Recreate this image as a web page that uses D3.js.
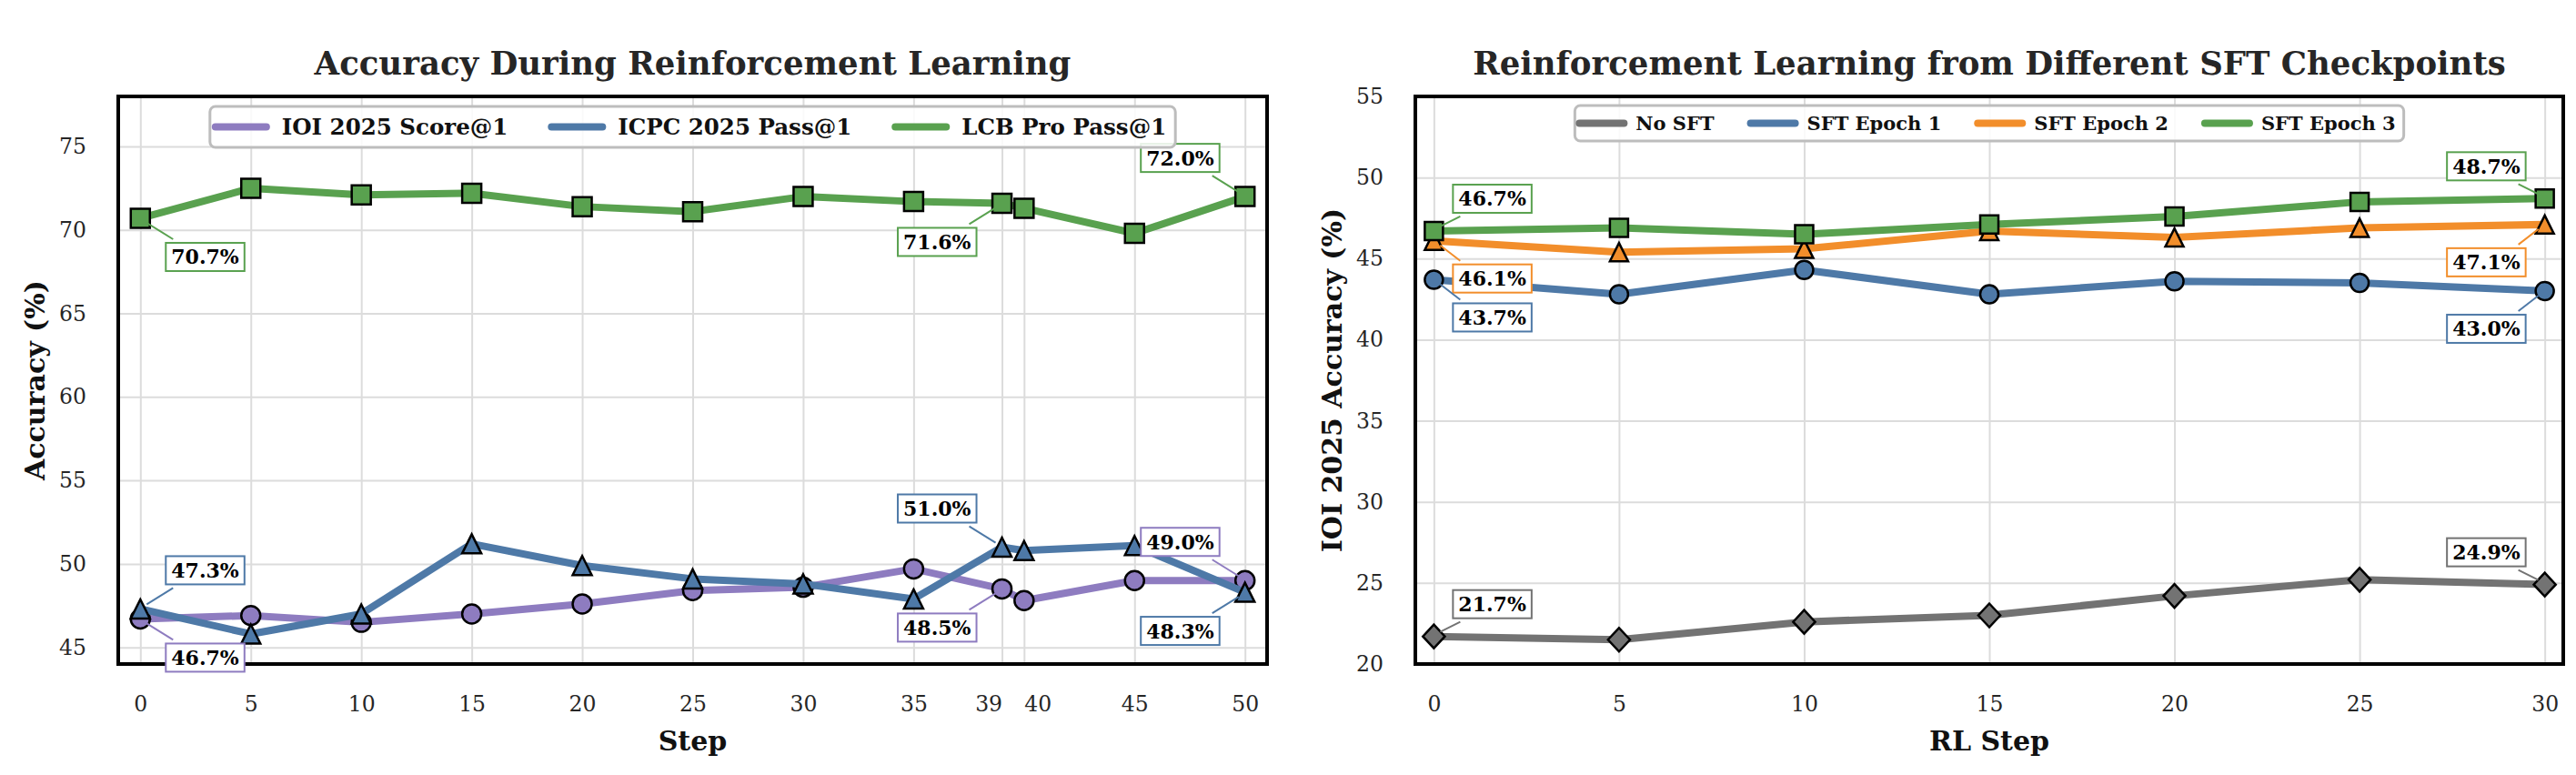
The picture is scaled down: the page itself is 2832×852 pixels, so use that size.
<!DOCTYPE html>
<html>
<head>
<meta charset="utf-8">
<script src="https://cdn.jsdelivr.net/npm/d3@7"></script>
<style>
  body { margin: 0; background: #fff; }
  svg text { font-family: "DejaVu Serif", serif; }
</style>
</head>
<body>
<div id="chart"></div>
<script>
// ---------- data: left panel ----------
const rlSteps = [0, 5, 10, 15, 20, 25, 30, 35, 39, 40, 45, 50];
const ioiScore = [46.7, 46.9, 46.5, 47.0, 47.6, 48.4, 48.6, 49.7, 48.5, 47.8, 49.0, 49.0];
const icpcPass = [47.3, 45.8, 47.0, 51.2, 49.9, 49.1, 48.8, 47.9, 51.0, 50.8, 51.1, 48.3];
const lcbPass = [70.7, 72.5, 72.1, 72.2, 71.4, 71.1, 72.0, 71.7, 71.6, 71.3, 69.8, 72.0];
const leftNames = ['IOI 2025 Score@1', 'ICPC 2025 Pass@1', 'LCB Pro Pass@1'];
const leftXTicks = [0, 5, 10, 15, 20, 25, 30, 35, 39, 40, 45, 50];
const leftYTicks = [45, 50, 55, 60, 65, 70, 75];
// [series index, step, placement]
const leftNotes = [
  [2, 0, 'dr'], [1, 0, 'ur'], [0, 0, 'dr'],
  [2, 39, 'dl'], [1, 39, 'ul'], [0, 39, 'dl'],
  [2, 50, 'ul'], [0, 50, 'ul'], [1, 50, 'dl']
];

// ---------- data: right panel ----------
const sftSteps = [0, 5, 10, 15, 20, 25, 30];
const noSft = [21.7, 21.5, 22.6, 23.0, 24.2, 25.2, 24.9];
const sftEpoch1 = [43.7, 42.8, 44.3, 42.8, 43.6, 43.5, 43.0];
const sftEpoch2 = [46.1, 45.4, 45.6, 46.7, 46.3, 46.9, 47.1];
const sftEpoch3 = [46.7, 46.9, 46.5, 47.1, 47.6, 48.5, 48.7];
const rightNames = ['No SFT', 'SFT Epoch 1', 'SFT Epoch 2', 'SFT Epoch 3'];
const rightXTicks = [0, 5, 10, 15, 20, 25, 30];
const rightYTicks = [20, 25, 30, 35, 40, 45, 50, 55];
const rightNotes = [
  [3, 0, 'ur'], [2, 0, 'dr'], [1, 0, 'dr'], [0, 0, 'ur'],
  [3, 30, 'ul'], [2, 30, 'dl'], [1, 30, 'dl'], [0, 30, 'ul']
];

const PURPLE = '#8e7cc0', BLUE = '#4e79a7', GREEN = '#59a14f', ORANGE = '#f28e2b', GRAY = '#737373';

const svg = d3.select('#chart').append('svg')
  .attr('width', 2832).attr('height', 852);

function markerPath(type, s) {
  const h = s / 2;
  if (type === 'square') return `M${-h},${-h}H${h}V${h}H${-h}Z`;
  if (type === 'circle') return d3.symbol(d3.symbolCircle, Math.PI * h * h)();
  if (type === 'triangle') return `M0,${-h}L${h},${h}L${-h},${h}Z`;
  const d = h * 1.3;
  return `M0,${-d}L${d * 0.93},0L0,${d}L${-d * 0.93},0Z`;
}

function drawPanel(o) {
  const g = svg.append('g');
  const x = d3.scaleLinear().domain(o.xDomain).range([o.x0, o.x1]);
  const y = d3.scaleLinear().domain(o.yDomain).range([o.y1, o.y0]);

  // grid
  g.append('g').attr('transform', `translate(0,${o.y1})`)
    .call(d3.axisBottom(x).tickValues(o.xTicks).tickSize(-(o.y1 - o.y0)).tickFormat(''))
    .call(a => a.select('.domain').remove())
    .selectAll('line').attr('stroke', '#dcdcdc').attr('stroke-width', 2);
  g.append('g').attr('transform', `translate(${o.x0},0)`)
    .call(d3.axisLeft(y).tickValues(o.yTicks).tickSize(-(o.x1 - o.x0)).tickFormat(''))
    .call(a => a.select('.domain').remove())
    .selectAll('line').attr('stroke', '#dcdcdc').attr('stroke-width', 2);

  // tick labels
  const xa = g.append('g').attr('transform', `translate(0,${o.y1})`)
    .call(d3.axisBottom(x).tickValues(o.xTicks).tickSize(0).tickPadding(35).tickFormat(d3.format('d')));
  xa.select('.domain').remove();
  xa.selectAll('text').attr('font-size', 23.5).attr('fill', '#262626')
    .attr('font-family', '"DejaVu Serif", serif')
    .attr('text-anchor', (d, i) => {
      const t = o.xTicks;
      if (i + 1 < t.length && t[i + 1] - d < 2) return 'end';
      if (i > 0 && d - t[i - 1] < 2) return 'start';
      return 'middle';
    });
  const ya = g.append('g').attr('transform', `translate(${o.x0},0)`)
    .call(d3.axisLeft(y).tickValues(o.yTicks).tickSize(0).tickPadding(35).tickFormat(d3.format('d')));
  ya.select('.domain').remove();
  ya.selectAll('text').attr('font-size', 23.5).attr('fill', '#262626')
    .attr('font-family', '"DejaVu Serif", serif');

  // titles
  const cx = (o.x0 + o.x1) / 2;
  g.append('text').attr('x', cx).attr('y', 82).attr('text-anchor', 'middle')
    .attr('font-size', 35.5).attr('font-weight', 'bold').attr('fill', '#262626').text(o.title);
  g.append('text').attr('x', cx).attr('y', 825).attr('text-anchor', 'middle')
    .attr('font-size', 30).attr('font-weight', 'bold').attr('fill', '#111').text(o.xLabel);
  g.append('text').attr('transform', `translate(${o.yLabelX},${(o.y0 + o.y1) / 2}) rotate(-90)`)
    .attr('text-anchor', 'middle')
    .attr('font-size', 30).attr('font-weight', 'bold').attr('fill', '#111').text(o.yLabel);

  // series
  o.series.forEach(s => {
    const pts = o.steps.map((st, i) => [st, s.values[i]]);
    g.append('path').datum(pts)
      .attr('fill', 'none').attr('stroke', s.color).attr('stroke-width', 8)
      .attr('stroke-linejoin', 'round')
      .attr('d', d3.line().x(d => x(d[0])).y(d => y(d[1])));
    g.append('g').selectAll('path').data(pts).join('path')
      .attr('transform', d => `translate(${x(d[0])},${y(d[1])})`)
      .attr('d', markerPath(s.marker, o.markerSize))
      .attr('fill', s.color).attr('stroke', '#000').attr('stroke-width', 2.5);
  });

  // frame
  g.append('rect').attr('x', o.x0).attr('y', o.y0)
    .attr('width', o.x1 - o.x0).attr('height', o.y1 - o.y0)
    .attr('fill', 'none').attr('stroke', '#000').attr('stroke-width', 4);

  // value annotations
  o.notes.forEach(([si, step, pos]) => {
    const s = o.series[si];
    const v = s.values[o.steps.indexOf(step)];
    const px = x(step), py = y(v);
    const sx = pos[1] === 'r' ? 1 : -1;
    const sy = pos[0] === 'd' ? 1 : -1;
    const nx = px + sx * o.noteDx;
    const ny = py + sy * (sy > 0 ? o.noteDown : o.noteUp);
    const ag = g.append('g');
    const t = ag.append('text').attr('font-size', 22).attr('font-weight', 'bold')
      .attr('fill', '#000').attr('text-anchor', 'middle').text(v.toFixed(1) + '%');
    const bw = t.node().getComputedTextLength() + 12, bh = 31;
    const bx = sx > 0 ? nx : nx - bw;
    const by = sy > 0 ? ny : ny - bh;
    ag.insert('line', 'text')
      .attr('x1', px + sx * 7).attr('y1', py + sy * 5)
      .attr('x2', nx + sx * 8).attr('y2', ny - sy * 4)
      .attr('stroke', s.color).attr('stroke-width', 2);
    ag.insert('rect', 'text').attr('x', bx).attr('y', by).attr('width', bw).attr('height', bh)
      .attr('fill', '#fff').attr('stroke', s.color).attr('stroke-width', 2);
    t.attr('x', bx + bw / 2).attr('y', by + bh / 2).attr('dy', '0.36em');
  });

  // legend
  const L = o.legend;
  const lg = g.append('g');
  const box = lg.append('rect');
  let lx = 0;
  const items = o.series.map(s => {
    const it = lg.append('g');
    it.append('line').attr('x1', 0).attr('x2', L.handle).attr('y1', 0).attr('y2', 0)
      .attr('stroke', s.color).attr('stroke-width', 8).attr('stroke-linecap', 'round');
    const tt = it.append('text').attr('x', L.handle + L.gap).attr('dy', '0.36em')
      .attr('font-size', L.fs).attr('font-weight', 'bold').attr('fill', '#111').text(s.name);
    const w = L.handle + L.gap + tt.node().getComputedTextLength();
    return { it, w };
  });
  const total = L.padL + d3.sum(items, d => d.w) + L.colGap * (items.length - 1) + L.padR;
  const left = cx - total / 2;
  lx = left + L.padL;
  items.forEach(d => {
    d.it.attr('transform', `translate(${lx},${L.top + L.h / 2})`);
    lx += d.w + L.colGap;
  });
  box.attr('x', left).attr('y', L.top).attr('width', total).attr('height', L.h)
    .attr('rx', 6).attr('fill', '#fff').attr('fill-opacity', 0.85)
    .attr('stroke', '#bdbdbd').attr('stroke-width', 3);
}

drawPanel({
  x0: 130, x1: 1393, y0: 106, y1: 730,
  xDomain: [-1, 51], yDomain: [44, 78],
  xTicks: leftXTicks, yTicks: leftYTicks,
  steps: rlSteps,
  series: [
    { name: leftNames[0], values: ioiScore, color: PURPLE, marker: 'circle' },
    { name: leftNames[1], values: icpcPass, color: BLUE, marker: 'triangle' },
    { name: leftNames[2], values: lcbPass, color: GREEN, marker: 'square' }
  ],
  markerSize: 21,
  notes: leftNotes, noteDx: 28, noteUp: 27, noteDown: 27,
  title: 'Accuracy During Reinforcement Learning',
  xLabel: 'Step', yLabel: 'Accuracy (%)', yLabelX: 49,
  legend: { top: 117, h: 45, fs: 24.5, handle: 56, gap: 17, colGap: 48, padL: 6, padR: 10 }
});

drawPanel({
  x0: 1556, x1: 2818, y0: 106, y1: 730,
  xDomain: [-0.5, 30.5], yDomain: [20, 55],
  xTicks: rightXTicks, yTicks: rightYTicks,
  steps: sftSteps,
  series: [
    { name: rightNames[0], values: noSft, color: GRAY, marker: 'diamond' },
    { name: rightNames[1], values: sftEpoch1, color: BLUE, marker: 'circle' },
    { name: rightNames[2], values: sftEpoch2, color: ORANGE, marker: 'triangle' },
    { name: rightNames[3], values: sftEpoch3, color: GREEN, marker: 'square' }
  ],
  markerSize: 20,
  notes: rightNotes, noteDx: 21, noteUp: 20, noteDown: 26,
  title: 'Reinforcement Learning from Different SFT Checkpoints',
  xLabel: 'RL Step', yLabel: 'IOI 2025 Accuracy (%)', yLabelX: 1475,
  legend: { top: 116, h: 39, fs: 21, handle: 49, gap: 13, colGap: 40, padL: 5, padR: 9 }
});
</script>
</body>
</html>
